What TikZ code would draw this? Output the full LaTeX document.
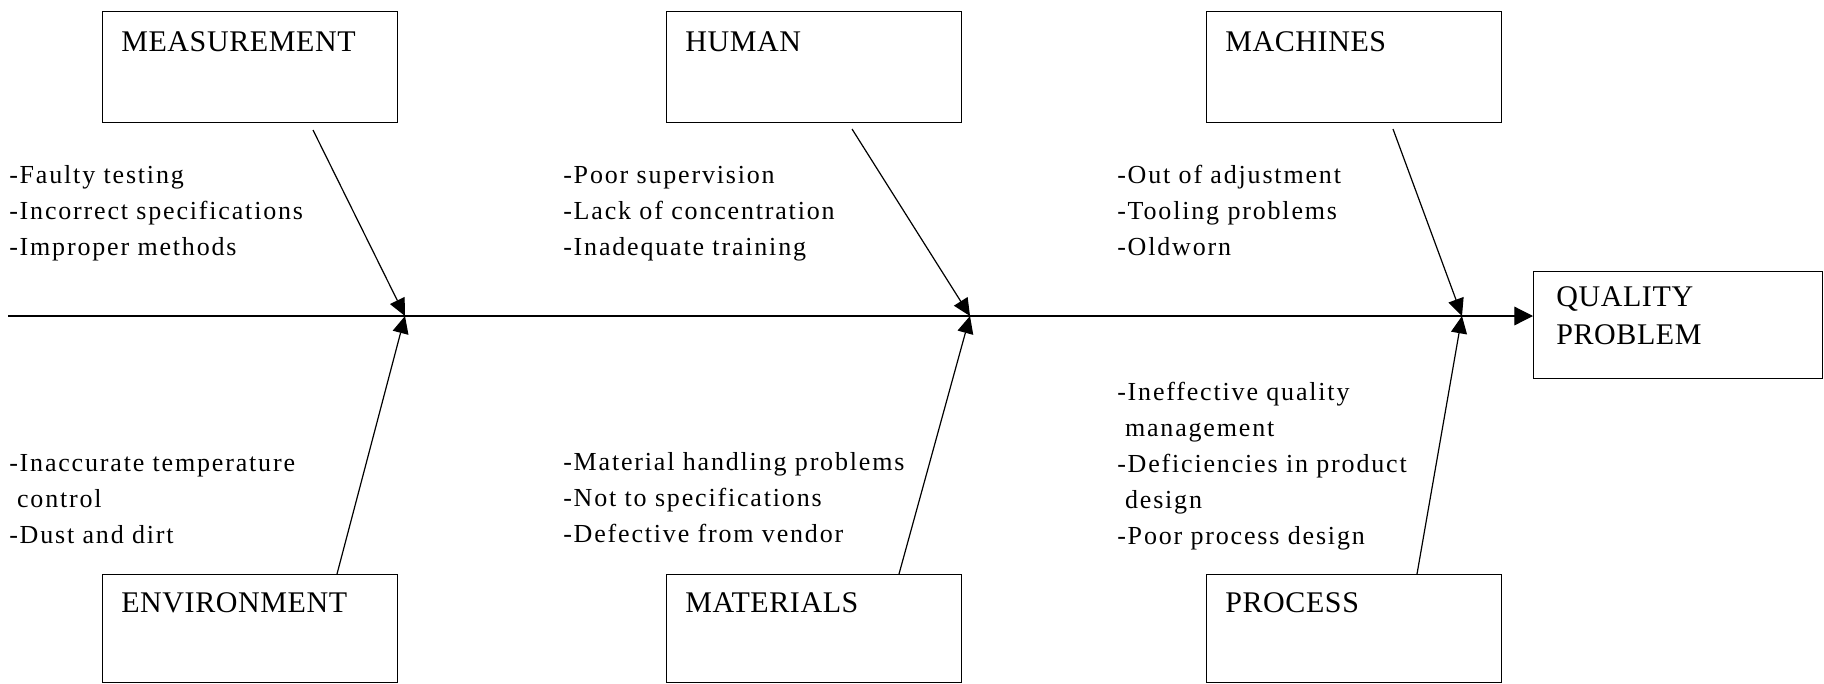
\documentclass[tikz,border=0pt]{standalone}
\usepackage{fontspec}
\setmainfont{Liberation Serif}
\newfontfamily\causefont[LetterSpace=7]{Liberation Serif}
\newfontfamily\headfont[LetterSpace=2]{Liberation Serif}
\usetikzlibrary{arrows.meta}

\tikzset{
  catbox/.style={draw, line width=1pt, anchor=north west, inner sep=0pt,
    minimum width=221.25pt, minimum height=83.25pt},
  cathead/.style={anchor=base west, inner sep=0pt, align=left,
    font={\headfont\fontsize{22.5}{28.5}\selectfont}},
  causes/.style={anchor=base west, inner sep=0pt, align=left,
    font={\causefont\fontsize{19.5}{27}\selectfont}},
  branch/.style={line width=0.9pt, -{Triangle[length=13pt,width=12pt]}},
  spine/.style={line width=0.9pt, -{Triangle[length=14pt,width=14pt]}},
}

\begin{document}
\begin{tikzpicture}[x=0.75pt,y=0.75pt,yscale=-1,xscale=1]
\useasboundingbox (0,0) rectangle (1824,683);

%Shape: Rectangle [id:meas]
\node[catbox] (meas) at (102,11) {};
%Shape: Rectangle [id:human]
\node[catbox] (human) at (666,11) {};
%Shape: Rectangle [id:mach]
\node[catbox] (mach) at (1206,11) {};
%Shape: Rectangle [id:env]
\node[catbox, minimum height=81pt] (env) at (102,574) {};
%Shape: Rectangle [id:mat]
\node[catbox, minimum height=81pt] (mat) at (666,574) {};
%Shape: Rectangle [id:proc]
\node[catbox, minimum height=81pt] (proc) at (1206,574) {};
%Shape: Rectangle [id:qp]
\node[catbox, minimum width=216.75pt, minimum height=80.25pt] (qp) at (1533,271) {};

% Text Node
\node[cathead] (measLbl) at ([shift={(19,40.5)}]meas.north west) {MEASUREMENT};
% Text Node
\node[cathead] (humanLbl) at ([shift={(19,40.5)}]human.north west) {HUMAN};
% Text Node
\node[cathead] (machLbl) at ([shift={(19,40.5)}]mach.north west) {MACHINES};
% Text Node
\node[cathead] (envLbl) at ([shift={(19,38)}]env.north west) {ENVIRONMENT};
% Text Node
\node[cathead] (matLbl) at ([shift={(19,38)}]mat.north west) {MATERIALS};
% Text Node
\node[cathead] (procLbl) at ([shift={(19,38)}]proc.north west) {PROCESS};
% Text Node (base = last line)
\node[cathead] (qpLbl) at ([shift={(23,73)}]qp.north west) {QUALITY\\PROBLEM};

%Straight Lines [id:spine]
\coordinate (tail) at (8,316);
\draw[spine] (tail) -- (tail -| qp.west);

% junctions on the spine
\coordinate (j1) at (405,316);
\coordinate (j2) at (970,316);
\coordinate (j3) at (1462,316);
\coordinate (measFoot) at (313,130);
\coordinate (humanFoot) at (852,129);
\coordinate (machFoot) at (1393,129);

%Straight Lines [id:branches]
\draw[branch] (measFoot) -- (j1);
\draw[branch] (humanFoot) -- (j2);
\draw[branch] (machFoot) -- (j3);
\draw[branch] ([shift={(235,0)}]env.north west) -- (j1);
\draw[branch] ([shift={(233,0)}]mat.north west) -- (j2);
\draw[branch] ([shift={(211,0)}]proc.north west) -- (j3);

% Text Node (anchored on the last line)
\node[causes] (measCauses) at (9,255) {-Faulty testing\\-Incorrect specifications\\-Improper methods};
% Text Node
\node[causes] (humanCauses) at (563,255) {-Poor supervision\\-Lack of concentration\\-Inadequate training};
% Text Node
\node[causes] (machCauses) at (1117,255) {-Out of adjustment\\-Tooling problems\\-Oldworn};
% Text Node
\node[causes] (envCauses) at (9,543) {-Inaccurate temperature\\\hspace*{0.3em}control\\-Dust and dirt};
% Text Node
\node[causes] (matCauses) at (563,542) {-Material handling problems\\-Not to specifications\\-Defective from vendor};
% Text Node
\node[causes] (procCauses) at (1117,544) {-Ineffective quality\\\hspace*{0.3em}management\\-Deficiencies in product\\\hspace*{0.3em}design\\-Poor process design};

\end{tikzpicture}
\end{document}
